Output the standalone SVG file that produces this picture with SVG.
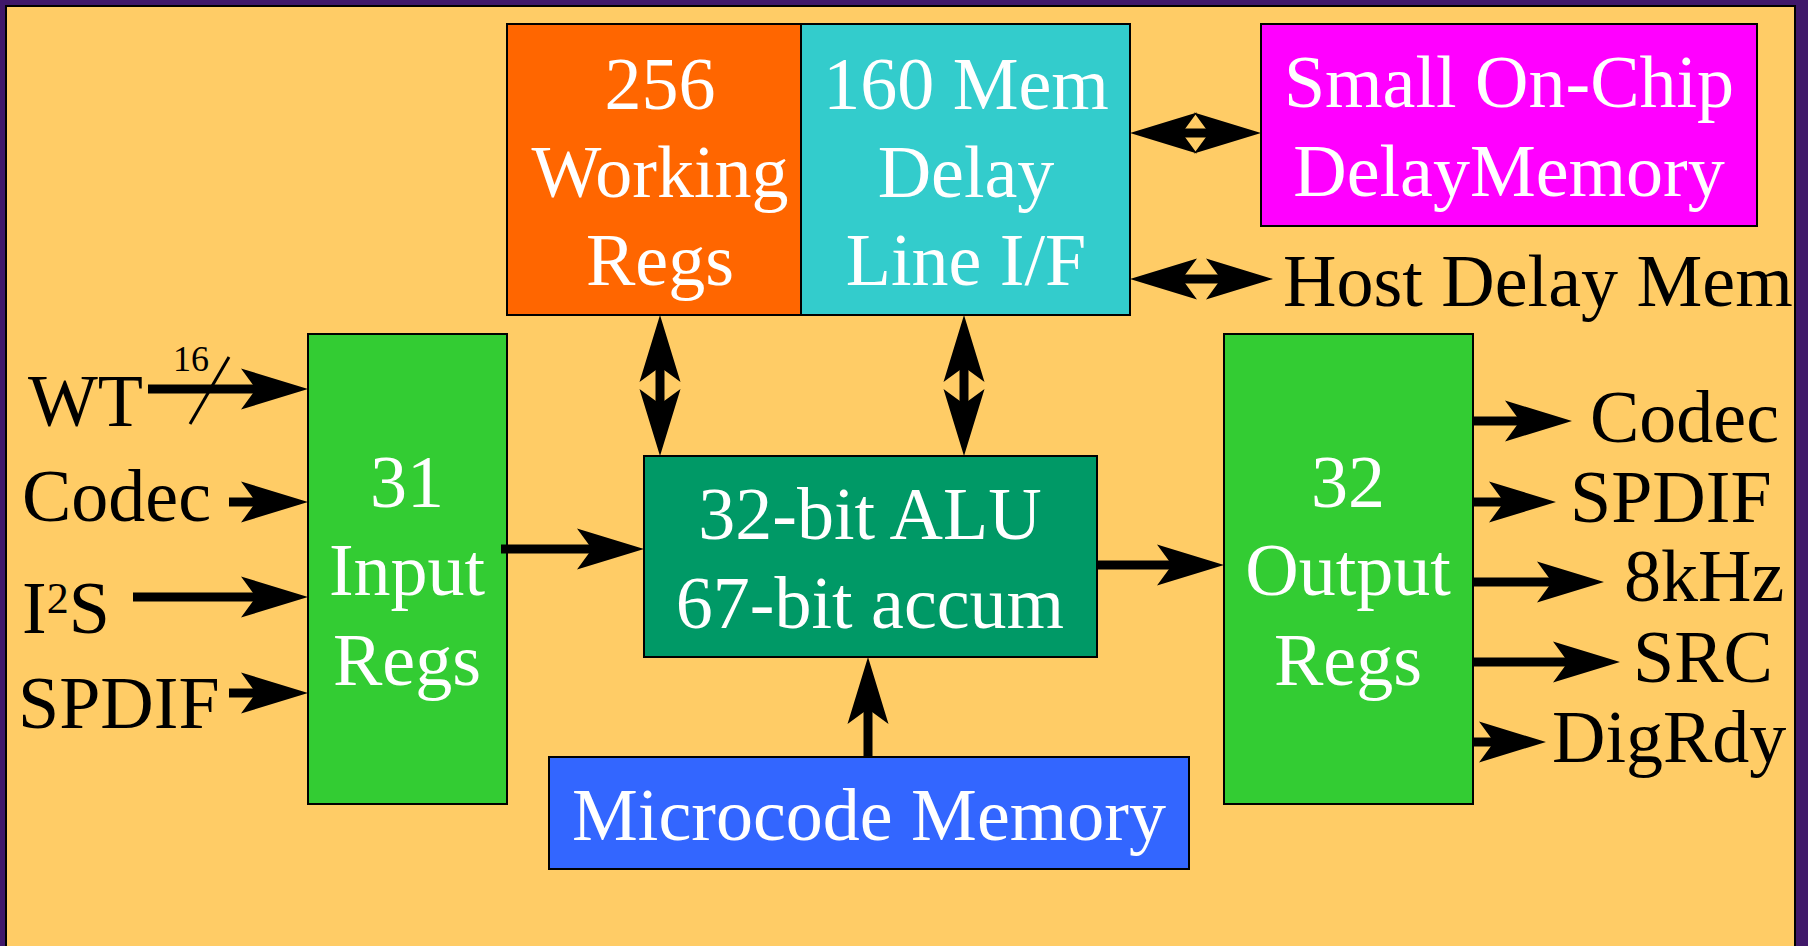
<svg xmlns="http://www.w3.org/2000/svg" width="1808" height="946" viewBox="0 0 1808 946">
<defs>
<style>
.box{stroke:#000;stroke-width:2}
.wt{font-family:"Liberation Serif","Times New Roman",serif;font-size:74px;fill:#fff;text-anchor:middle}
.bt{font-family:"Liberation Serif","Times New Roman",serif;font-size:74px;fill:#000}
.wire{stroke:#000;stroke-width:9;fill:none;marker-end:url(#ah)}
.bi{stroke:#000;stroke-width:9;fill:none;marker-start:url(#ah);marker-end:url(#ah)}
</style>
<marker id="ah" markerUnits="userSpaceOnUse" viewBox="-68 -22 70 44" markerWidth="70" markerHeight="44" refX="-40" refY="0" orient="auto-start-reverse" overflow="visible">
<path d="M0,0 L-67,-20.5 L-52,0 L-67,20.5 Z" fill="#000"/>
</marker>
</defs>
<rect x="0" y="0" width="1808" height="946" fill="#40186a"/>
<rect x="6" y="6" width="1789" height="945" fill="#FFCC66" stroke="#000" stroke-width="2"/>

<g id="working-regs">
<rect class="box" x="507" y="24" width="294" height="291" fill="#FF6600"/>
<text class="wt" x="660" y="109">256</text>
<text class="wt" x="660" y="197">Working</text>
<text class="wt" x="660" y="285">Regs</text>
</g>
<g id="mem-delay-if">
<rect class="box" x="801" y="24" width="329" height="291" fill="#33CCCC"/>
<text class="wt" x="966" y="109">160 Mem</text>
<text class="wt" x="966" y="197">Delay</text>
<text class="wt" x="966" y="285">Line I/F</text>
</g>
<g id="small-delay-memory">
<rect class="box" x="1261" y="24" width="496" height="202" fill="#FF00FF"/>
<text class="wt" x="1509" y="107">Small On-Chip</text>
<text class="wt" x="1509" y="196">DelayMemory</text>
</g>
<g id="input-regs">
<rect class="box" x="308" y="334" width="199" height="470" fill="#33CC33"/>
<text class="wt" x="407" y="507">31</text>
<text class="wt" x="407" y="595">Input</text>
<text class="wt" x="407" y="685">Regs</text>
</g>
<g id="alu">
<rect class="box" x="644" y="456" width="453" height="201" fill="#009966"/>
<text class="wt" x="870" y="539">32-bit ALU</text>
<text class="wt" x="870" y="628">67-bit accum</text>
</g>
<g id="microcode-memory">
<rect class="box" x="549" y="757" width="640" height="112" fill="#3366FF"/>
<text class="wt" x="869" y="840">Microcode Memory</text>
</g>
<g id="output-regs">
<rect class="box" x="1224" y="334" width="249" height="470" fill="#33CC33"/>
<text class="wt" x="1348" y="507">32</text>
<text class="wt" x="1348" y="595">Output</text>
<text class="wt" x="1348" y="685">Regs</text>
</g>

<g id="labels">
<text class="bt" x="28" y="426">WT</text>
<text x="173" y="371" font-family="Liberation Serif, serif" font-size="36" fill="#000">16</text>
<text class="bt" x="22" y="521">Codec</text>
<text class="bt" x="22" y="633">I<tspan font-size="44" dy="-20">2</tspan><tspan dy="20">S</tspan></text>
<text class="bt" x="18" y="728">SPDIF</text>
<text class="bt" x="1283" y="306">Host Delay Mem</text>
<text class="bt" x="1590" y="442">Codec</text>
<text class="bt" x="1570" y="522">SPDIF</text>
<text class="bt" x="1624" y="601">8kHz</text>
<text class="bt" x="1633" y="682">SRC</text>
<text class="bt" x="1552" y="762">DigRdy</text>
</g>

<g id="connectors">
<line class="wire" x1="148" y1="389" x2="268" y2="389"/>
<line x1="229" y1="357" x2="190" y2="424" stroke="#000" stroke-width="3"/>
<line class="wire" x1="229" y1="502" x2="268" y2="502"/>
<line class="wire" x1="133" y1="597" x2="268" y2="597"/>
<line class="wire" x1="229" y1="693" x2="268" y2="693"/>
<line class="wire" x1="501" y1="549" x2="604" y2="549"/>
<line class="wire" x1="1097" y1="565" x2="1184" y2="565"/>
<line class="wire" x1="868" y1="757" x2="868" y2="697"/>
<line class="bi" x1="660" y1="355" x2="660" y2="416"/>
<line class="bi" x1="964" y1="355" x2="964" y2="416"/>
<line class="bi" x1="1170" y1="133" x2="1221" y2="133"/>
<line class="bi" x1="1170" y1="279" x2="1233" y2="279"/>
<line class="wire" x1="1473" y1="421" x2="1532" y2="421"/>
<line class="wire" x1="1473" y1="502" x2="1516" y2="502"/>
<line class="wire" x1="1473" y1="582" x2="1564" y2="582"/>
<line class="wire" x1="1473" y1="662" x2="1580" y2="662"/>
<line class="wire" x1="1473" y1="742" x2="1506" y2="742"/>
</g>
</svg>
